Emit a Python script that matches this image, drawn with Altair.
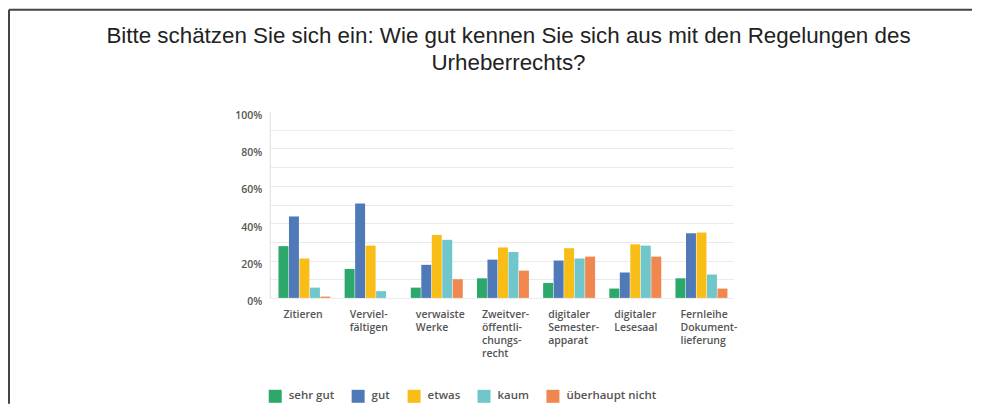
import altair as alt
import pandas as pd

categories = [
    "Zitieren",
    "Verviel-|fältigen",
    "verwaiste|Werke",
    "Zweitver-|öffentli-|chungs-|recht",
    "digitaler|Semester-|apparat",
    "digitaler|Lesesaal",
    "Fernleihe|Dokument-|lieferung",
]
series = ["sehr gut", "gut", "etwas", "kaum", "überhaupt nicht"]
colors = ["#2CA86B", "#4F79B7", "#F9BD17", "#6FC6CB", "#F0874F"]

sehr_gut = [27.7, 15.5, 5.5, 10.5, 8.0, 5.0, 10.5]
gut = [43.6, 50.5, 17.7, 20.5, 20.0, 13.6, 34.6]
etwas = [21.1, 28.0, 33.7, 27.0, 26.6, 28.7, 35.0]
kaum = [5.5, 3.6, 31.1, 24.6, 21.1, 28.0, 12.5]
ueberhaupt_nicht = [0.7, 0.0, 10.0, 14.6, 22.1, 22.1, 5.0]

y_ticks = [0, 10, 20, 30, 40, 50, 60, 70, 80, 90, 100]

values = [sehr_gut, gut, etwas, kaum, ueberhaupt_nicht]
rows = []
for s, vals in zip(series, values):
    for c, v in zip(categories, vals):
        rows.append({"Kategorie": c, "Antwort": s, "Wert": v})
df = pd.DataFrame(rows)

FONT = "Open Sans"
LABEL_COLOR = "#555555"

bars = alt.Chart(df).mark_bar().encode(
    x=alt.X(
        "Kategorie:N",
        sort=categories,
        scale=alt.Scale(paddingInner=0.215, paddingOuter=0.11, align=0.6),
        axis=alt.Axis(
            title=None,
            labelAngle=0,
            domain=False,
            ticks=False,
            labelAlign="left",
            labelBaseline="top",
            labelOffset=-21,
            labelPadding=12,
            labelExpr="split(datum.label, '|')",
            labelLineHeight=13,
            labelFont=FONT,
            labelFontSize=10.5,
            labelFontWeight=600,
            labelColor=LABEL_COLOR,
        ),
    ),
    xOffset=alt.XOffset(
        "Antwort:N", sort=series, scale=alt.Scale(paddingInner=0.05)
    ),
    y=alt.Y(
        "Wert:Q",
        scale=alt.Scale(domain=[0, 100], nice=False),
        axis=alt.Axis(
            title=None,
            values=y_ticks,
            labelExpr="datum.value % 20 == 0 ? datum.value + '%' : ''",
            ticks=False,
            labelPadding=8,
            labelOffset=4,
            labelFont=FONT,
            labelFontSize=10.5,
            labelFontWeight=600,
            labelColor=LABEL_COLOR,
            gridColor=alt.condition(
                "datum.value == 100", alt.value("transparent"), alt.value("#EAEAEA")
            ),
            domainColor="#DDDDDD",
        ),
    ),
    color=alt.Color(
        "Antwort:N",
        sort=series,
        scale=alt.Scale(domain=series, range=colors),
        legend=alt.Legend(
            title=None,
            orient="none",
            legendX=-1,
            legendY=279,
            direction="horizontal",
            symbolType="square",
            symbolSize=169,
            symbolStrokeWidth=0,
            symbolOpacity=1,
            labelFont=FONT,
            labelFontSize=11.5,
            labelFontWeight=600,
            labelColor=LABEL_COLOR,
            labelOffset=7,
            columnPadding=17,
            padding=0,
        ),
    ),
)

frame_df = pd.DataFrame({"k": [0]})
left_line = alt.Chart(frame_df).mark_rule(color="#444444", strokeWidth=2).encode(
    x=alt.value(-261), y=alt.value(-101.5), y2=alt.value(293)
)
top_line = alt.Chart(frame_df).mark_rule(color="#444444", strokeWidth=2).encode(
    x=alt.value(-261), x2=alt.value(703), y=alt.value(-101.5)
)

chart = (
    alt.layer(bars, left_line, top_line)
    .properties(
        width=464,
        height=187,
        padding=0,
        title=alt.Title(
            ["Bitte schätzen Sie sich ein: Wie gut kennen Sie sich aus mit den Regelungen des",
             "Urheberrechts?"],
            font="Liberation Sans",
            fontSize=22.4,
            fontWeight="normal",
            color="#222222",
            anchor="middle",
            frame="group",
            dx=7,
            offset=-66,
            lineHeight=27,
        ),
    )
    .configure_view(stroke=None)
)

chart.save("out.html", embed_options={"renderer": "svg", "actions": False})
